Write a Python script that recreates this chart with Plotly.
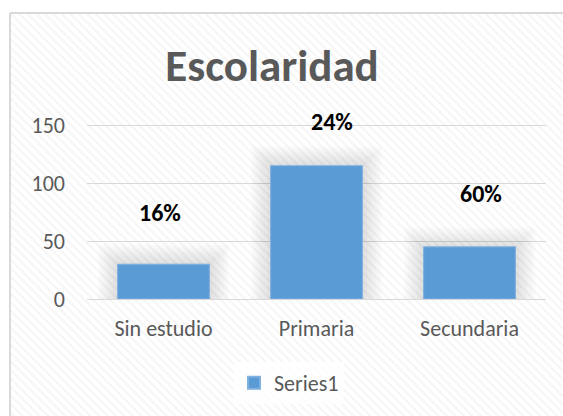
import plotly.graph_objects as go

categories = ["Sin estudio", "Primaria", "Secundaria"]
values = [30, 115, 45]
labels = ["16%", "24%", "60%"]
y_ticks = [0, 50, 100, 150]

# label placement (data-space y, pixel x shift)
label_y = [75, 153, 91]
label_dx = [-4, 15, 11]

FONT = "Carlito, Calibri, Lato, sans-serif"
GRAY = "#595959"
W, H = 563, 416
Y_MAX = 151
PL, PR, PT, PB = 87, 546, 124, 299  # plot area in px
PX_Y = (PB - PT) / Y_MAX
PX_X = (PR - PL) / len(categories)

fig = go.Figure()

# striped chart-area background (on its own full-size hidden axes)
fig.add_trace(go.Bar(
    x=[0.5], y=[1], width=1, xaxis="x", yaxis="y",
    marker=dict(color="white", line=dict(width=0),
                pattern=dict(shape="\\", fgcolor="#ececec", bgcolor="white", size=6, solidity=0.35)),
    showlegend=False, hoverinfo="skip",
))

# soft shadow (glow) behind the bars
for k in range(10, 0, -1):
    fig.add_trace(go.Bar(
        x=categories, y=[v + 2 * k / PX_Y for v in values],
        width=0.6 + 2 * 2 * k / PX_X, xaxis="x2", yaxis="y2",
        marker=dict(color="rgba(0,0,0,0.011)", line=dict(width=0)),
        showlegend=False, hoverinfo="skip",
    ))

fig.add_trace(go.Bar(
    x=categories, y=values, name="Series1", xaxis="x2", yaxis="y2",
    marker=dict(color="#5B9BD5", line=dict(width=1, color="#7eb0e0")),
    width=0.6,
))

for i, (c, t) in enumerate(zip(categories, labels)):
    fig.add_annotation(x=c, xref="x2", y=label_y[i] / Y_MAX, yref="y2 domain",
                       yanchor="middle", xanchor="center",
                       text=f"<b>{t}</b>", showarrow=False,
                       xshift=label_dx[i], font=dict(family=FONT, size=24, color="#000000"))

fig.update_layout(
    width=W, height=H,
    margin=dict(l=0, r=0, t=0, b=0, pad=0, autoexpand=False),
    paper_bgcolor="white", plot_bgcolor="rgba(0,0,0,0)",
    barmode="overlay",
    title=dict(text="<b>Escolaridad</b>", x=272/W, xanchor="center", y=1-65/H, yanchor="middle",
               font=dict(family=FONT, size=45, color=GRAY)),
    showlegend=True,
    legend=dict(orientation="h", x=289/W, xanchor="center", y=1-383/H, yanchor="middle",
                font=dict(family=FONT, size=22, color=GRAY), bgcolor="rgba(255,255,255,0.75)",
                itemsizing="constant", itemwidth=30),
    xaxis=dict(domain=[11/W, 1], range=[0, 1], visible=False, fixedrange=True),
    yaxis=dict(domain=[0, (H-14)/H], range=[0, 1], visible=False, fixedrange=True),
    xaxis2=dict(domain=[PL/W, PR/W], anchor="y2", showline=False, ticks="",
                tickfont=dict(family=FONT, size=22, color=GRAY), showgrid=False, ticklabelstandoff=14),
    yaxis2=dict(domain=[(H-PB)/H, (H-PT)/H], anchor="x2", range=[0, Y_MAX], tickvals=y_ticks,
                showgrid=True, gridcolor="#d9d9d9", gridwidth=1,
                zeroline=True, zerolinecolor="#d9d9d9", zerolinewidth=1,
                ticks="", tickfont=dict(family=FONT, size=22, color=GRAY), ticklabelstandoff=21),
    shapes=[
        dict(type="line", xref="paper", yref="paper", x0=10/W, x1=1, y0=(H-13)/H, y1=(H-13)/H,
             line=dict(color="#d9d9d9", width=2), layer="above"),
        dict(type="line", xref="paper", yref="paper", x0=10/W, x1=10/W, y0=0, y1=(H-13)/H,
             line=dict(color="#d9d9d9", width=2), layer="above"),
    ],
)

fig.write_html("out.html", config={"displayModeBar": False},
               post_script="document.body.style.margin='0';")
